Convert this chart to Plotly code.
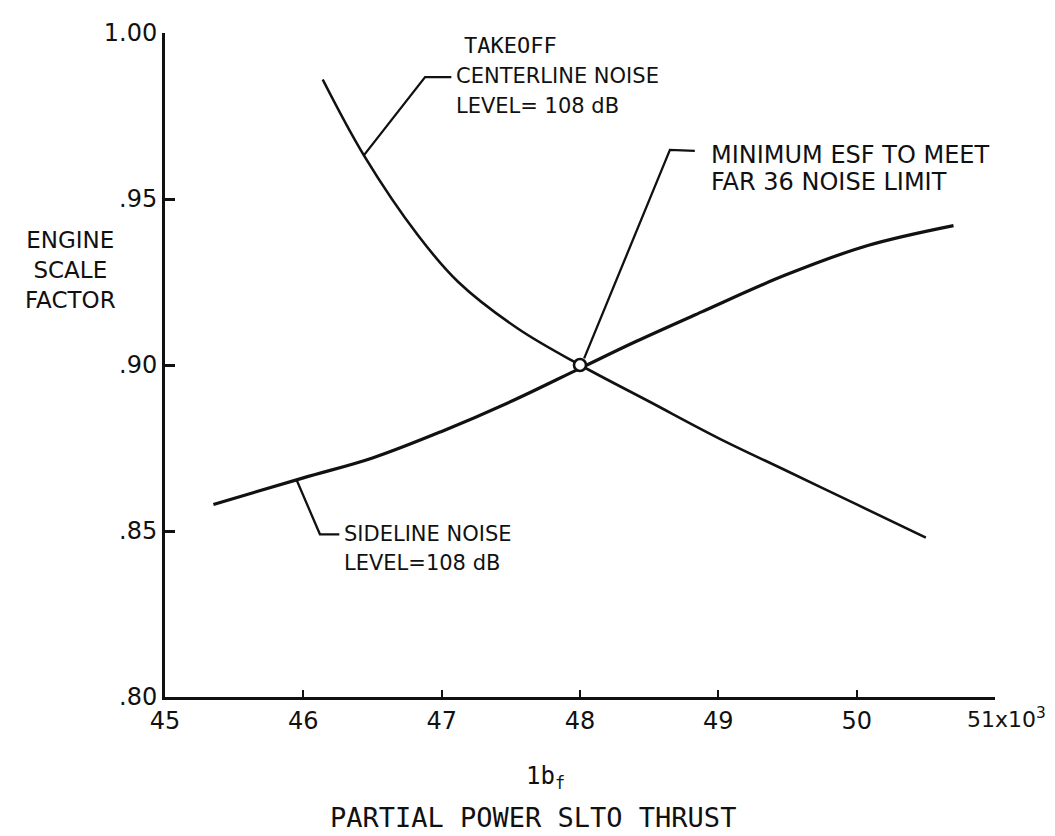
import plotly.graph_objects as go

# centerline (takeoff) noise curve
centerline_x = [46.14, 46.44, 46.83, 47.12, 47.55, 48.0, 48.5, 49.0, 49.5, 50.0, 50.5]
centerline_y = [0.986, 0.963, 0.939, 0.925, 0.911, 0.900, 0.889, 0.878, 0.868, 0.858, 0.848]

# sideline noise curve
sideline_x = [45.35, 46.0, 46.5, 47.0, 47.5, 48.0, 48.4, 48.88, 49.48, 50.08, 50.70]
sideline_y = [0.858, 0.866, 0.872, 0.880, 0.889, 0.899, 0.907, 0.916, 0.927, 0.936, 0.942]

# minimum ESF point
min_x = [48.0]
min_y = [0.900]

x_ticks = [45, 46, 47, 48, 49, 50, 51]
x_tick_text = ['45', '46', '47', '48', '49', '50', '']
x_last_label = '51x10<sup>3</sup>'
y_ticks = [0.80, 0.85, 0.90, 0.95, 1.00]
y_tick_text = ['.80', '.85', '.90', '.95', '1.00']

# leader lines: (x, y) vertices
center_leader = [(46.44, 0.9633), (46.88, 0.9867), (47.07, 0.9867)]
min_leader = [(48.03, 0.9020), (48.65, 0.9648), (48.83, 0.9645)]
side_leader = [(45.95, 0.8655), (46.12, 0.8490), (46.26, 0.8490)]

INK = '#111111'
SANS = 'DejaVu Sans'
MONO = 'DejaVu Sans Mono'

fig = go.Figure()
fig.add_trace(go.Scatter(x=centerline_x, y=centerline_y, mode='lines',
                         line=dict(color=INK, width=2.6, shape='spline'),
                         hoverinfo='skip', showlegend=False))
fig.add_trace(go.Scatter(x=sideline_x, y=sideline_y, mode='lines',
                         line=dict(color=INK, width=3.2, shape='spline'),
                         hoverinfo='skip', showlegend=False))
for pts in (center_leader, min_leader, side_leader):
    fig.add_trace(go.Scatter(x=[p[0] for p in pts], y=[p[1] for p in pts], mode='lines',
                             line=dict(color=INK, width=2.3),
                             hoverinfo='skip', showlegend=False))
fig.add_trace(go.Scatter(x=min_x, y=min_y, mode='markers',
                         marker=dict(size=12, color='white', symbol='circle',
                                     line=dict(color=INK, width=2.6)),
                         hoverinfo='skip', showlegend=False))

ann = []
ann.append(dict(x=47.15, y=0.9961, text='TAKEOFF', xanchor='left', yanchor='middle',
                showarrow=False, font=dict(family=MONO, size=22, color=INK)))
ann.append(dict(x=47.09, y=0.9870, text='CENTERLINE NOISE', xanchor='left', yanchor='middle',
                showarrow=False, font=dict(family=SANS, size=21, color=INK)))
ann.append(dict(x=47.09, y=0.9780, text='LEVEL= 108 dB', xanchor='left', yanchor='middle',
                showarrow=False, font=dict(family=SANS, size=21, color=INK)))
ann.append(dict(x=48.93, y=0.9633, text='MINIMUM ESF TO MEET', xanchor='left', yanchor='middle',
                showarrow=False, font=dict(family=SANS, size=24, color=INK)))
ann.append(dict(x=48.93, y=0.9551, text='FAR 36 NOISE LIMIT', xanchor='left', yanchor='middle',
                showarrow=False, font=dict(family=SANS, size=24, color=INK)))
ann.append(dict(x=46.28, y=0.8490, text='SIDELINE NOISE', xanchor='left', yanchor='middle',
                showarrow=False, font=dict(family=SANS, size=21, color=INK)))
ann.append(dict(x=46.28, y=0.8403, text='LEVEL=108 dB', xanchor='left', yanchor='middle',
                showarrow=False, font=dict(family=SANS, size=21, color=INK)))
ann.append(dict(x=-0.114, y=0.643, xref='paper', yref='paper', text='ENGINE<br>SCALE<br>FACTOR',
                xanchor='center', yanchor='middle', align='center', showarrow=False,
                font=dict(family=SANS, size=23, color=INK)))
ann.append(dict(x=1.064, y=0, xref='paper', yref='paper', text=x_last_label,
                xanchor='right', yanchor='top', yshift=-5, showarrow=False,
                font=dict(family=SANS, size=22, color=INK)))
ann.append(dict(x=0.458, y=-0.121, xref='paper', yref='paper', text='1b<sub>f</sub>',
                xanchor='center', yanchor='middle', showarrow=False,
                font=dict(family=MONO, size=24, color=INK)))
ann.append(dict(x=0.443, y=-0.181, xref='paper', yref='paper', text='PARTIAL POWER SLTO THRUST',
                xanchor='center', yanchor='middle', showarrow=False,
                font=dict(family=MONO, size=27, color=INK)))

fig.update_layout(
    width=1055, height=836,
    margin=dict(l=157, r=68, t=25, b=147),
    paper_bgcolor='white', plot_bgcolor='white',
    annotations=ann,
    xaxis=dict(range=[45, 51], tickvals=x_ticks, ticktext=x_tick_text,
               showgrid=False, zeroline=False, showline=True, linecolor=INK, linewidth=3,
               ticks='inside', ticklen=7, tickwidth=2, tickcolor=INK,
               tickfont=dict(family=SANS, size=24, color=INK)),
    yaxis=dict(range=[0.80, 1.00], tickvals=y_ticks, ticktext=y_tick_text,
               showgrid=False, zeroline=False, showline=True, linecolor=INK, linewidth=3,
               ticks='inside', ticklen=10, tickwidth=2.5, tickcolor=INK,
               tickfont=dict(family=SANS, size=24, color=INK)),
)

fig.write_html("out.html")
